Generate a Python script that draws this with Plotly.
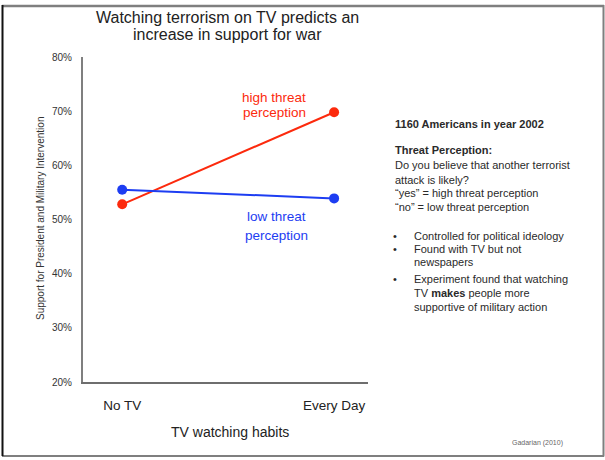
import plotly.graph_objects as go

# data
categories = ["No TV", "Every Day"]
high_threat = [52.8, 69.8]
low_threat = [55.5, 53.9]
y_ticks = [20, 30, 40, 50, 60, 70, 80]
y_tick_text = [f"{v}%" for v in y_ticks]

title_lines = ["Watching terrorism on TV predicts an", "increase in support for war"]
high_label = ["high threat", "perception"]
low_label = ["low threat", "perception"]

# (text, has bullet, indented, y pixel)
notes = [
    ("<b>1160 Americans in year 2002</b>", False, False, 124),
    ("<b>Threat Perception:</b>", False, False, 150),
    ("Do you believe that another terrorist", False, False, 165),
    ("attack is likely?", False, False, 180),
    ("“yes” = high threat perception", False, False, 192.5),
    ("“no” = low threat perception", False, False, 206.5),
    ("Controlled for political ideology", True, True, 236),
    ("Found with TV but not", True, True, 249),
    ("newspapers", False, True, 262),
    ("Experiment found that watching", True, True, 279),
    ("TV <b>makes</b> people more", False, True, 292.5),
    ("supportive of military action", False, True, 307),
]

RED = "#fc2a0d"
BLUE = "#1d3df2"
FONT = "Liberation Sans, Arial, sans-serif"

# plot area in pixels: x 83..368, y 57..382
L, R, T, B = 83, 368, 57, 382


def px(x):
    return (x - L) / (R - L)


def py(y):
    return (B - y) / (B - T)


fig = go.Figure()
fig.add_trace(go.Scatter(x=categories, y=high_threat, mode="lines+markers",
                         line=dict(color=RED, width=2),
                         marker=dict(color=RED, size=10), showlegend=False))
fig.add_trace(go.Scatter(x=categories, y=low_threat, mode="lines+markers",
                         line=dict(color=BLUE, width=2),
                         marker=dict(color=BLUE, size=10), showlegend=False))

ann = []
for i, t in enumerate(title_lines):
    ann.append(dict(text=t, x=px(227), y=py(17 + 18 * i),
                    font=dict(size=16, color="#222")))
for i, t in enumerate(high_label):
    ann.append(dict(text=t, x=px(274), y=py(97 + 15.5 * i),
                    font=dict(size=13.5, color=RED)))
for i, t in enumerate(low_label):
    ann.append(dict(text=t, x=px(276.5), y=py(216.5 + 18.5 * i),
                    font=dict(size=13.5, color=BLUE)))
ann.append(dict(text="TV watching habits", x=px(229.5), y=py(432),
                font=dict(size=14, color="#222")))
ann.append(dict(text="Support for President and Military Intervention",
                x=px(40), y=py(219), textangle=-90,
                font=dict(size=10, color="#333")))
for text, bullet, indent, y in notes:
    ann.append(dict(text=text, x=px(412 if indent else 393), y=py(y),
                    xanchor="left", font=dict(size=11, color="#2a2a2a")))
    if bullet:
        ann.append(dict(text="•", x=px(395), y=py(y), xanchor="center",
                        font=dict(size=11, color="#2a2a2a")))
ann.append(dict(text="Gadarian (2010)", x=px(537), y=py(443),
                font=dict(size=7, color="#666")))

for a in ann:
    a.setdefault("xanchor", "center")
    a.update(xref="paper", yref="paper", yanchor="middle", showarrow=False)

# slide frame
shapes = [
    dict(type="line", x0=px(2), x1=px(604), y0=py(6), y1=py(6),
         line=dict(color="#7f7f7f", width=2.5)),
    dict(type="line", x0=px(603.5), x1=px(603.5), y0=py(5), y1=py(456.5),
         line=dict(color="#7f7f7f", width=2)),
    dict(type="line", x0=px(2), x1=px(604), y0=py(456), y1=py(456),
         line=dict(color="#7f7f7f", width=2)),
    dict(type="line", x0=px(2.5), x1=px(2.5), y0=py(5), y1=py(456),
         line=dict(color="#111", width=2)),
]
for s in shapes:
    s.update(xref="paper", yref="paper")

fig.update_layout(
    width=605, height=460,
    margin=dict(l=L, r=605 - R, t=T, b=460 - B),
    plot_bgcolor="white", paper_bgcolor="white",
    font=dict(family=FONT),
    annotations=ann, shapes=shapes,
    xaxis=dict(type="category", range=[-0.185, 1.16], showgrid=False,
               zeroline=False, showline=True, linecolor="#6e6e6e",
               linewidth=1.5, ticks="", ticklabelstandoff=10,
               tickfont=dict(size=13.5, color="#222")),
    yaxis=dict(range=[20, 80], tickvals=y_ticks, ticktext=y_tick_text,
               showgrid=False, zeroline=False, showline=True,
               linecolor="#7f7f7f", linewidth=2, ticks="",
               ticklabelstandoff=7, tickfont=dict(size=10, color="#333")),
)

# the page body has a default 8px margin; drop it so the figure fills the window
fig.write_html("out.html", config={"displayModeBar": False},
               post_script="document.body.style.margin='0';")
